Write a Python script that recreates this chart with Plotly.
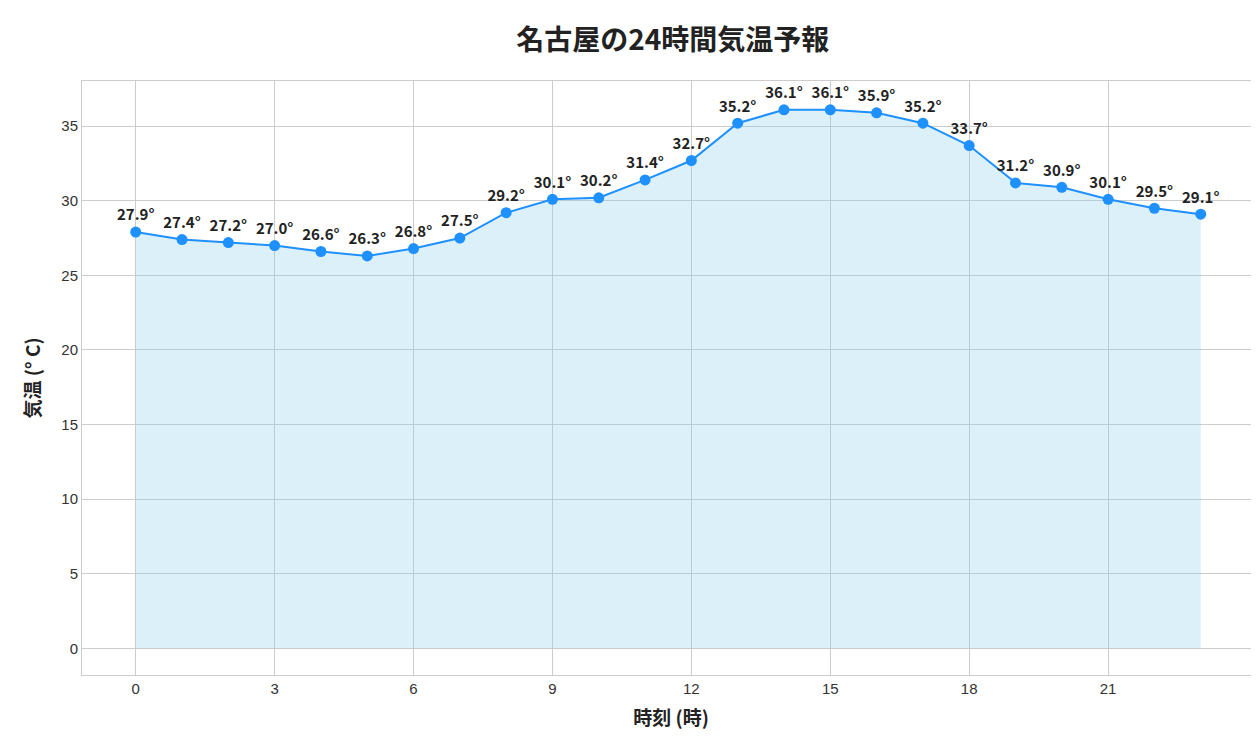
import plotly.graph_objects as go

hours = list(range(24))
temps = [27.9, 27.4, 27.2, 27.0, 26.6, 26.3, 26.8, 27.5, 29.2, 30.1, 30.2, 31.4,
         32.7, 35.2, 36.1, 36.1, 35.9, 35.2, 33.7, 31.2, 30.9, 30.1, 29.5, 29.1]
labels = [f"<b>{t:.1f}°</b>" for t in temps]

font = "Noto Sans CJK JP"
fig = go.Figure()
fig.add_trace(go.Scatter(x=hours, y=temps, fill="tozeroy", fillcolor="rgba(135,206,235,0.3)",
                         mode="lines+markers+text", line=dict(color="#1E90FF", width=2),
                         marker=dict(size=11, color="#1E90FF"),
                         text=labels, textposition="top center",
                         textfont=dict(family=font, size=15, color="#222"),
                         cliponaxis=False, showlegend=False))
axis = dict(showgrid=True, gridcolor="#cccccc", gridwidth=1, zeroline=False,
            showline=True, linecolor="#cccccc", mirror=True, ticks="",
            tickfont=dict(family="Liberation Sans, Arial", size=15, color="#333"))
fig.update_layout(
    width=1259, height=737, plot_bgcolor="white", paper_bgcolor="white",
    margin=dict(l=74, r=7, t=73, b=70),
    title=dict(text="<b>名古屋の24時間気温予報</b>", x=0.528, xanchor="center", y=0.97,
               font=dict(family=font, size=28, color="#222")),
    xaxis=dict(axis, range=[-1.16, 24.28], tickvals=list(range(0, 24, 3)),
               title=dict(text="<b>時刻 (時)</b>", font=dict(family=font, size=19, color="#222"))),
    yaxis=dict(axis, range=[-1.79, 38.03], tickvals=list(range(0, 36, 5)),
               title=dict(text="<b>気温 (° C)</b>", font=dict(family=font, size=19, color="#222"))),
)
fig.write_html("out.html")
